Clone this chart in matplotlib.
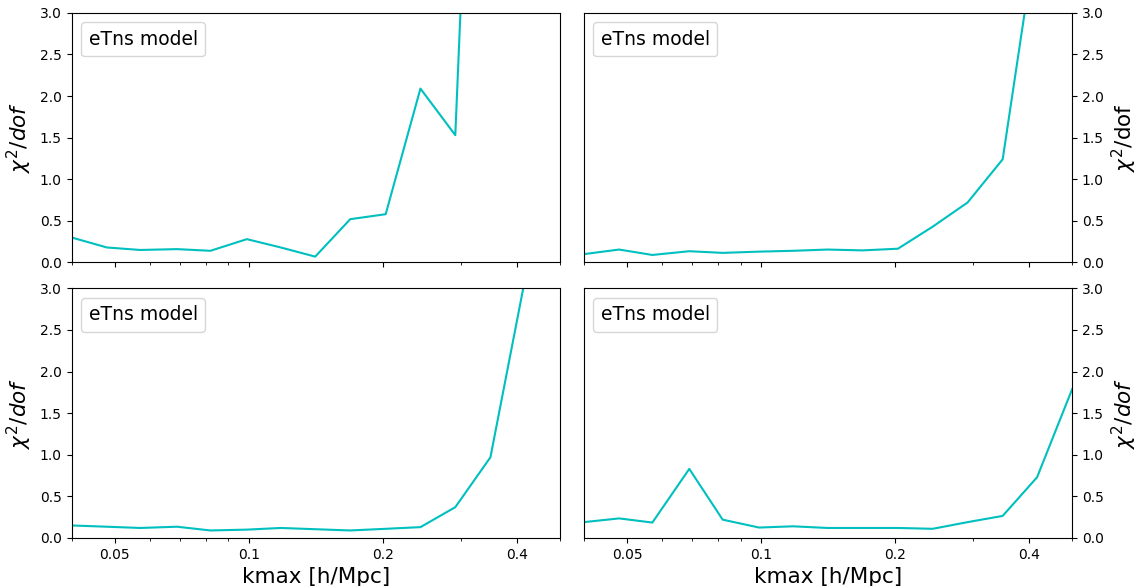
import matplotlib
matplotlib.use('Agg')
import matplotlib.pyplot as plt
from matplotlib.ticker import FormatStrFormatter, NullFormatter
import numpy as np

# kmax values [h/Mpc]
kmax = [0.040, 0.048, 0.057, 0.069, 0.082, 0.099, 0.118, 0.141,
        0.169, 0.203, 0.243, 0.291, 0.349, 0.417, 0.500]

# chi2/dof, one array per panel (points above 3 are off the plot)
chi2_tl = [0.30, 0.18, 0.15, 0.16, 0.14, 0.28, 0.18, 0.07,
           0.52, 0.58, 2.09, 1.53, 11.6, 25.0, 50.0]
chi2_tr = [0.10, 0.155, 0.09, 0.135, 0.115, 0.13, 0.14, 0.155,
           0.145, 0.165, 0.43, 0.72, 1.24, 4.0, 8.0]
chi2_bl = [0.15, 0.135, 0.12, 0.135, 0.09, 0.10, 0.12, 0.105,
           0.09, 0.11, 0.13, 0.37, 0.97, 3.1, 6.0]
chi2_br = [0.19, 0.235, 0.185, 0.83, 0.22, 0.125, 0.14, 0.12,
           0.12, 0.12, 0.11, 0.19, 0.265, 0.73, 1.79]

xticks = [0.05, 0.1, 0.2, 0.4]

fig, axes = plt.subplots(2, 2, figsize=(11.37, 5.86), dpi=100)
fig.subplots_adjust(left=0.063, right=0.943, top=0.978, bottom=0.082,
                    wspace=0.049, hspace=0.104)

panels = [(axes[0, 0], chi2_tl, r'$\chi^2/dof$', 'left'),
          (axes[0, 1], chi2_tr, r'$\chi^2$/dof', 'right'),
          (axes[1, 0], chi2_bl, r'$\chi^2/dof$', 'left'),
          (axes[1, 1], chi2_br, r'$\chi^2/dof$', 'right')]

for ax, chi2, ylab, side in panels:
    ax.plot(kmax, chi2, color='c')
    ax.plot([], [], ' ', label='eTns model')
    ax.set_xscale('log')
    ax.set_xlim(0.04, 0.5)
    ax.set_ylim(0, 3)
    ax.set_xticks(xticks)
    ax.xaxis.set_major_formatter(FormatStrFormatter('%g'))
    ax.xaxis.set_minor_formatter(NullFormatter())
    ax.set_ylabel(ylab, fontsize=15.5)
    if side == 'right':
        ax.yaxis.tick_right()
        ax.yaxis.set_label_position('right')
    ax.legend(loc='upper left', fontsize=13.5, handlelength=0, handletextpad=0)

for ax in axes[0]:
    ax.tick_params(labelbottom=False)
for ax in axes[1]:
    ax.set_xlabel('kmax [h/Mpc]', fontsize=15.5)

fig.savefig('out.png')
